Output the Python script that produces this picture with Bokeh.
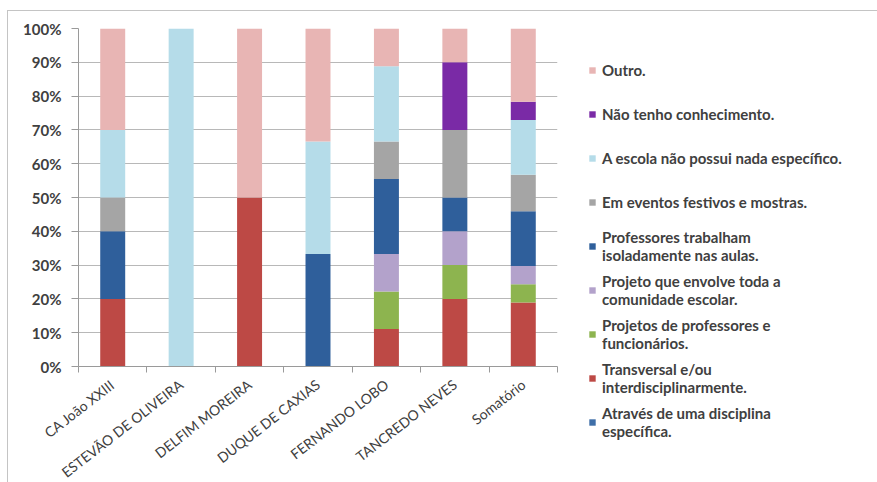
from bokeh.plotting import figure
from bokeh.models import (ColumnDataSource, FixedTicker, PrintfTickFormatter,
                          Range1d, Legend, LegendItem)
from bokeh.embed import file_html
from bokeh.resources import INLINE

# Schools surveyed (last column is the overall total)
schools = ["CA João XXIII", "ESTEVÃO DE OLIVEIRA", "DELFIM MOREIRA",
           "DUQUE DE CAXIAS", "FERNANDO LOBO", "TANCREDO NEVES", "Somatório"]

# Share of answers per school, in percent (bottom of the stack first)
disciplina = [0, 0, 0, 0, 0, 0, 0]
transversal = [20, 0, 50, 0, 11.1, 20, 18.9]
prof_func = [0, 0, 0, 0, 11.1, 10, 5.4]
comunidade = [0, 0, 0, 0, 11.1, 10, 5.4]
isolados = [20, 0, 0, 33.3, 22.2, 10, 16.2]
eventos = [10, 0, 0, 0, 11.1, 20, 10.8]
escola_nada = [20, 100, 0, 33.3, 22.2, 0, 16.2]
nao_tenho = [0, 0, 0, 0, 0, 20, 5.4]
outro = [30, 0, 50, 33.4, 11.2, 10, 21.7]

series_labels = [
    "Através de uma disciplina\nespecífica.",
    "Transversal e/ou\ninterdisciplinarmente.",
    "Projetos de professores e\nfuncionários.",
    "Projeto que envolve toda a\ncomunidade escolar.",
    "Professores trabalham\nisoladamente nas aulas.",
    "Em eventos festivos e mostras.",
    "A escola não possui nada específico.",
    "Não tenho conhecimento.",
    "Outro.",
]

keys = ["disciplina", "transversal", "prof_func", "comunidade", "isolados",
        "eventos", "escola_nada", "nao_tenho", "outro"]
colors = ["#3F6FA8", "#BD4945", "#8DB44F", "#B3A2CB", "#2F5F9B",
          "#A5A5A5", "#B5DCE9", "#7A2AA6", "#E8B5B4"]

pos = [i + 0.5 for i in range(len(schools))]
source = ColumnDataSource(dict(
    x=pos, disciplina=disciplina, transversal=transversal, prof_func=prof_func,
    comunidade=comunidade, isolados=isolados, eventos=eventos,
    escola_nada=escola_nada, nao_tenho=nao_tenho, outro=outro))

FONT = "Lato"
TXT = "#404040"
AXIS = "#9a9a9a"

p = figure(frame_width=479, frame_height=338,
           min_border_left=70, min_border_right=321,
           min_border_top=17, min_border_bottom=117,
           x_range=Range1d(0, len(schools)), y_range=Range1d(0, 100),
           output_backend="svg", toolbar_location=None,
           background_fill_color="white", border_fill_color="white",
           margin=(10, 0, 0, 7))
p.outline_line_color = None
p.styles = {"border": "1px solid #c4c4c4"}

bars = p.vbar_stack(keys, x="x", width=0.365, color=colors, line_color=None,
                    source=source)

p.xaxis.ticker = FixedTicker(ticks=pos, minor_ticks=list(range(len(schools) + 1)))
p.xaxis.major_label_overrides = {v: s for v, s in zip(pos, schools)}
p.xaxis.major_label_orientation = 0.66
p.xaxis.major_tick_line_color = None
p.xaxis.minor_tick_line_color = AXIS
p.xaxis.minor_tick_in = 0
p.xaxis.minor_tick_out = 6
p.xaxis.axis_line_color = AXIS
p.xaxis.major_label_text_font = FONT
p.xaxis.major_label_text_font_size = "14px"
p.xaxis.major_label_text_color = TXT
p.xaxis.major_label_standoff = 10

p.yaxis.ticker = FixedTicker(ticks=list(range(0, 101, 10)))
p.yaxis.formatter = PrintfTickFormatter(format="%d%%")
p.yaxis.major_tick_in = 0
p.yaxis.major_tick_out = 7
p.yaxis.minor_tick_line_color = None
p.yaxis.major_tick_line_color = AXIS
p.yaxis.axis_line_color = AXIS
p.yaxis.major_label_text_font = FONT
p.yaxis.major_label_text_font_style = "bold"
p.yaxis.major_label_text_font_size = "15px"
p.yaxis.major_label_text_color = TXT
p.yaxis.major_label_standoff = 10

p.xgrid.grid_line_color = None
p.ygrid.grid_line_color = "#b8b8b8"

# legend in the right-hand panel, top entry first; every entry gets the
# height of a two-line label so that all entries share one pitch
items = [LegendItem(label=series_labels[i], renderers=[bars[i]])
         for i in reversed(range(len(keys)))]
legend = Legend(items=items, location=(31, -74), orientation="vertical",
                spacing=8, padding=0, margin=0,
                glyph_width=8, glyph_height=8, label_standoff=6,
                label_height=36,
                label_text_font=FONT, label_text_font_size="15px",
                label_text_font_style="bold", label_text_color=TXT,
                label_text_line_height=1.1,
                border_line_color=None, background_fill_alpha=0)
p.add_layout(legend, "right")

open("out.html", "w").write(file_html(p, INLINE))
